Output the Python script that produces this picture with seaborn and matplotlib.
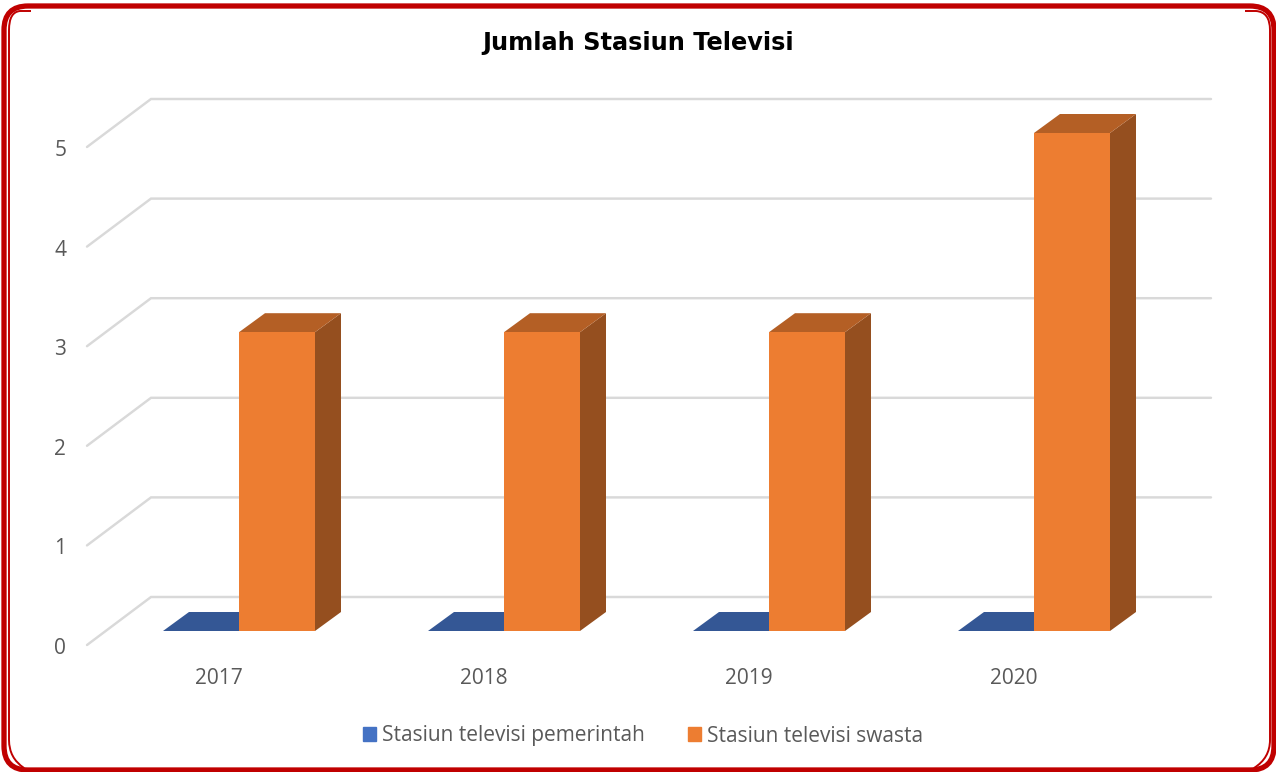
import matplotlib
matplotlib.use('Agg')
import matplotlib.pyplot as plt
import matplotlib.patches as patches
import matplotlib.path as mpath
import matplotlib.transforms as mtrans
import pandas as pd
import seaborn as sns

# values
years = ['2017', '2018', '2019', '2020']
pemerintah = [0, 0, 0, 0]
swasta = [3, 3, 3, 5]
y_ticks = [0, 1, 2, 3, 4, 5]
series_names = ['Stasiun televisi pemerintah', 'Stasiun televisi swasta']

W, H = 1276, 772

df = pd.DataFrame({
    'year': years * 2,
    'value': pemerintah + swasta,
    'series': [series_names[0]] * 4 + [series_names[1]] * 4,
})

sns.set_theme(style='white')
plt.rcParams['font.family'] = ['Open Sans', 'DejaVu Sans']

fig = plt.figure(figsize=(W / 100, H / 100), dpi=100)
# axes covers the front edge of the floor out to the back wall
ax = fig.add_axes([87 / W, 1 - 645 / H, (1211 - 87) / W, (645 - 99) / H])

colors = {series_names[0]: '#4472C4', series_names[1]: '#ED7D31'}
sns.barplot(data=df, x='year', y='value', hue='series', hue_order=series_names,
            palette=colors, width=152 / 265, gap=0, saturation=1, ax=ax, legend=False,
            linewidth=0, zorder=4)

ax.set_xlim((87 - 239) / 265, (1211 - 239) / 265)
ax.set_ylim(-14 / 99.6, (631 - 99) / 99.6)
sns.despine(ax=ax, left=True, bottom=True, top=True, right=True)
ax.set_xlabel('')
ax.set_ylabel('')
ax.set_yticks(y_ticks)
ax.tick_params(axis='both', length=0, labelcolor='#595959', labelsize=15)

# pixel offsets for the tick labels, they sit on the front of the floor
def shift(dx, dy):
    return mtrans.ScaledTranslation(dx / 100, dy / 100, fig.dpi_scale_trans)

for lab in ax.get_yticklabels():
    lab.set_transform(lab.get_transform() + shift(-16, -15))
for lab in ax.get_xticklabels():
    lab.set_transform(lab.get_transform() + shift(-20, -18))

# floor and walls
grid_c = '#D9D9D9'
dx_wall = 64 / 265
dy_wall = 48 / 99.6
x0, x1 = ax.get_xlim()
y_base = ax.get_ylim()[0]
for v in y_ticks:
    yb = y_base + dy_wall + v
    ax.plot([x0, x0 + dx_wall, x1], [y_base + v, yb, yb], color=grid_c, lw=1.75,
            solid_joinstyle='miter', zorder=1, clip_on=False)

# fake 3D depth on top of every bar seaborn drew
dep_x = 26 / 265
dep_y = 19 / 99.6
for bar in list(ax.patches):
    x = bar.get_x()
    w = bar.get_width()
    h = bar.get_height()
    base = bar.get_facecolor()
    top_c = tuple(c * 0.76 for c in base[:3])
    side_c = tuple(c * 0.63 for c in base[:3])
    if h > 0:
        ax.add_patch(patches.Polygon([(x + w, 0), (x + w + dep_x, dep_y), (x + w + dep_x, h + dep_y), (x + w, h)],
                                     closed=True, fc=side_c, ec='none', zorder=3))
    ax.add_patch(patches.Polygon([(x, h), (x + dep_x, h + dep_y), (x + w + dep_x, h + dep_y), (x + w, h)],
                                 closed=True, fc=top_c, ec='none', zorder=3))

fig.text(638 / W, 1 - 43 / H, 'Jumlah Stasiun Televisi', ha='center', va='center',
         fontsize=17.3, fontweight='bold', color='black', family='DejaVu Sans')

handles = [patches.Patch(color=colors[s]) for s in series_names]
ax.legend(handles, series_names, loc='center', bbox_to_anchor=(643 / W, 1 - 736 / H),
          bbox_transform=fig.transFigure, ncol=2, frameon=False, fontsize=15,
          labelcolor='#595959', handlelength=0.62, handleheight=0.62, handletextpad=0.3,
          columnspacing=2.08, borderpad=0)

# red frame, drawn in pixels
pix = mtrans.Affine2D().scale(1, -1).translate(0, H)
fig.add_artist(patches.FancyBboxPatch((4, 6), W - 6, H - 8, boxstyle='round,pad=0,rounding_size=24',
                                      fc='none', ec='#C00000', lw=3.8, transform=pix))
P = mpath.Path
inner_verts = [(31, 11), (20, 11), (9, 12), (9, 30), (9, H - 32), (9, H - 14), (24, H - 4),
               (W - 31, 11), (W - 20, 11), (W - 6, 12), (W - 6, 30), (W - 6, H - 32), (W - 6, H - 14), (W - 22, H - 4)]
inner_codes = [P.MOVETO, P.LINETO, P.CURVE3, P.CURVE3, P.LINETO, P.CURVE3, P.CURVE3] * 2
fig.add_artist(patches.PathPatch(P(inner_verts, inner_codes), fc='none', ec='#C00000', lw=1.4, transform=pix))

fig.savefig('out.png', dpi=100)
